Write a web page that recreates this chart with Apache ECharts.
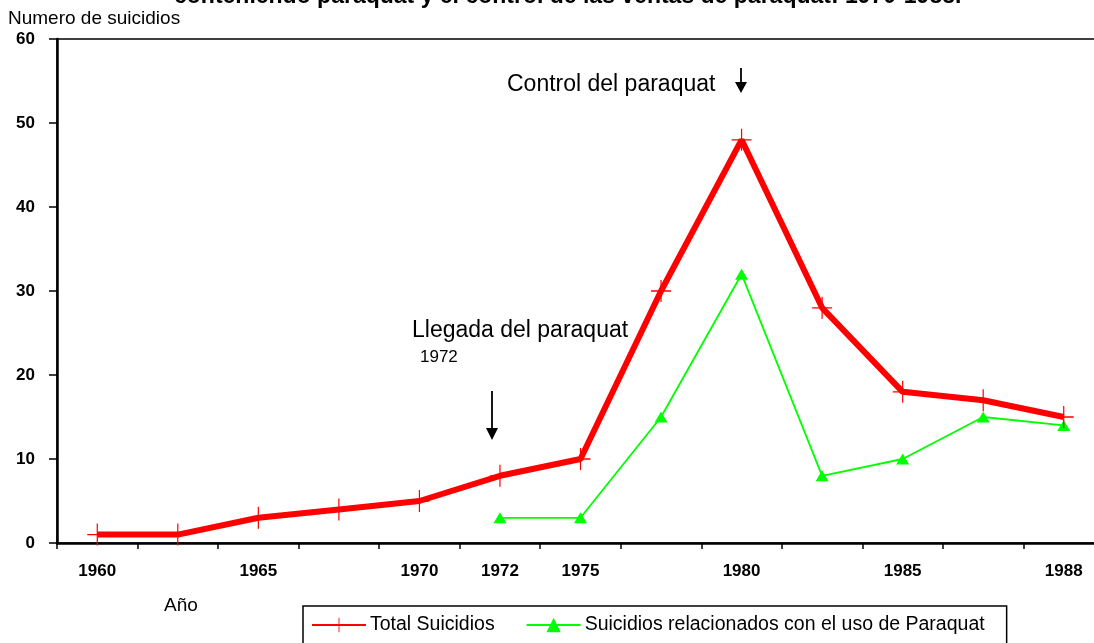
<!DOCTYPE html>
<html>
<head>
<meta charset="utf-8">
<script src="https://cdn.jsdelivr.net/npm/echarts@6/dist/echarts.min.js"></script>
<style>html,body{margin:0;padding:0;background:#fff}#c{width:1094px;height:643px}</style>
</head>
<body>
<div id="c"></div>
<script>
var tickLabels = ['1960','','1965','','1970','1972','1975','','1980','','1985','','1988'];
var totalSuicidios = [1, 1, 3, 4, 5, 8, 10, 30, 48, 28, 18, 17, 15];
var paraquatSuicidios = [null, null, null, null, null, 3, 3, 15, 32, 8, 10, 15, 14];
var yTicks = [0, 10, 20, 30, 40, 50, 60];

var FONT = '"Liberation Sans", Arial, sans-serif';
var plus = 'path://M9.4,0 H10.6 V20 H9.4 Z M0,9.4 H20 V10.6 H0 Z';

var chart = echarts.init(document.getElementById('c'), null, {renderer: 'canvas'});
chart.setOption({
  animation: false,
  backgroundColor: '#fff',
  textStyle: {fontFamily: FONT},
  grid: {left: 57, top: 39, width: 1047, bottom: 100, outerBoundsMode: 'none', containLabel: false, show: true, borderColor: '#000', borderWidth: 1.5, backgroundColor: 'transparent'},
  xAxis: {
    type: 'category',
    data: tickLabels,
    boundaryGap: true,
    axisLine: {lineStyle: {color: '#000', width: 2.5}},
    axisTick: {show: true, inside: false, length: 6, lineStyle: {color: '#000', width: 1.5}, alignWithLabel: false, interval: 0},
    axisLabel: {interval: 0, color: '#000', fontWeight: 'bold', fontSize: 17, fontFamily: FONT, margin: 20},
    splitLine: {show: false}
  },
  yAxis: {
    type: 'value',
    min: yTicks[0], max: yTicks[yTicks.length - 1], interval: 10,
    axisLine: {show: true, lineStyle: {color: '#000', width: 2.5}},
    axisTick: {show: true, length: 8, lineStyle: {color: '#000', width: 1.5}},
    axisLabel: {color: '#000', fontWeight: 'bold', fontSize: 17, fontFamily: FONT, margin: 22},
    splitLine: {show: false}
  },
  legend: {
    left: 303, top: 606,
    padding: [9, 22, 14, 8],
    borderColor: '#000', borderWidth: 1.5,
    itemWidth: 54, itemHeight: 18, itemGap: 31,
    textStyle: {fontSize: 19.5, color: '#000', fontFamily: FONT, padding: [0, 0, 0, -1]},
    data: ['Total Suicidios', 'Suicidios relacionados con el uso de Paraquat']
  },
  series: [
    {
      name: 'Total Suicidios', type: 'line', data: totalSuicidios,
      symbol: plus, symbolSize: [20, 22], showAllSymbol: true,
      lineStyle: {color: '#ff0000', width: 6},
      itemStyle: {color: '#ff0000'},
      z: 3
    },
    {
      name: 'Suicidios relacionados con el uso de Paraquat', type: 'line', data: paraquatSuicidios,
      symbol: 'triangle', symbolSize: [13, 11], showAllSymbol: true,
      lineStyle: {color: '#00ff00', width: 1.8},
      itemStyle: {color: '#00ff00'},
      z: 2
    }
  ],
  graphic: [
    {type: 'text', left: 174, top: -15, style: {text: 'conteniendo paraquat y el control de las ventas de paraquat: 1970-1988.', font: 'bold 23px ' + FONT, fill: '#000'}},
    {type: 'text', style: {x: 8, y: 9, text: 'Numero de suicidios', font: '19px ' + FONT, fill: '#000'}},
    {type: 'text', style: {x: 164, y: 596, text: 'Año', font: '19px ' + FONT, fill: '#000'}},
    {type: 'text', style: {x: 507, y: 73, text: 'Control del paraquat', font: '23px ' + FONT, fill: '#000'}},
    {type: 'line', shape: {x1: 741, y1: 68, x2: 741, y2: 84}, style: {stroke: '#000', lineWidth: 1.8}},
    {type: 'polygon', shape: {points: [[735, 82], [747, 82], [741, 93]]}, style: {fill: '#000'}},
    {type: 'text', style: {x: 412, y: 319, text: 'Llegada del paraquat', font: '23px ' + FONT, fill: '#000'}},
    {type: 'text', style: {x: 420, y: 349, text: '1972', font: '17px ' + FONT, fill: '#000'}},
    {type: 'line', shape: {x1: 492, y1: 391, x2: 492, y2: 430}, style: {stroke: '#000', lineWidth: 1.8}},
    {type: 'polygon', shape: {points: [[486, 428], [498, 428], [492, 440]]}, style: {fill: '#000'}}
  ]
});
</script>
</body>
</html>
